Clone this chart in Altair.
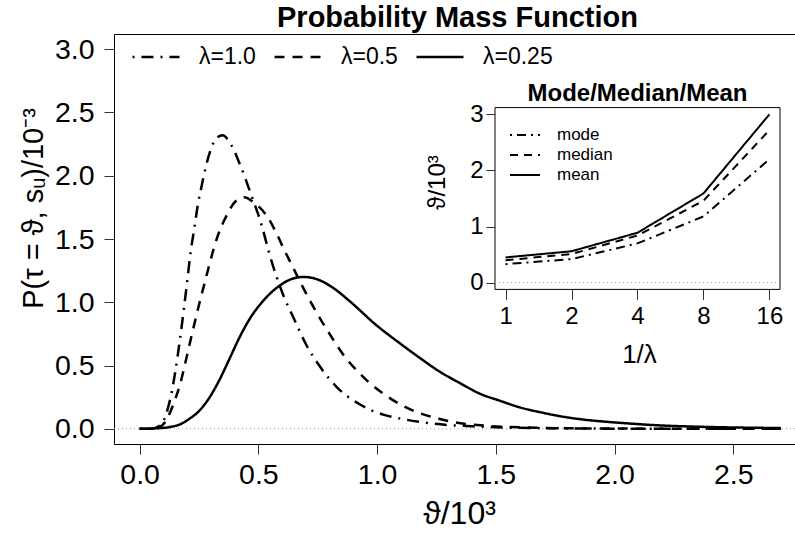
import altair as alt
import pandas as pd

# ---------------- data ----------------
series_labels = ["λ=1.0", "λ=0.5", "λ=0.25"]

theta_l100 = [0.00, 0.05, 0.08, 0.10, 0.12, 0.135, 0.15, 0.17, 0.20, 0.215, 0.23, 0.245,
              0.26, 0.28, 0.30, 0.325, 0.35, 0.37, 0.40, 0.42, 0.445, 0.46, 0.485, 0.50,
              0.515, 0.55, 0.60, 0.65, 0.70, 0.76, 0.83, 0.93, 1.03, 1.10, 1.20, 1.30,
              1.40, 1.50, 1.60, 1.80, 2.00, 2.30, 2.70]
pmf_l100 = [0.00, 0.00, 0.02, 0.06, 0.17, 0.29, 0.45, 0.71, 1.16, 1.40, 1.58, 1.77,
            1.91, 2.08, 2.21, 2.30, 2.32, 2.29, 2.19, 2.10, 1.98, 1.90, 1.77, 1.69,
            1.60, 1.36, 1.08, 0.87, 0.67, 0.49, 0.33, 0.19, 0.11, 0.08, 0.05, 0.03,
            0.02, 0.012, 0.008, 0.003, 0.001, 0.0, 0.0]

theta_l050 = [0.00, 0.06, 0.09, 0.11, 0.126, 0.147, 0.17, 0.186, 0.208, 0.232, 0.25, 0.265,
              0.283, 0.307, 0.33, 0.362, 0.405, 0.44, 0.48, 0.54, 0.58, 0.61, 0.65, 0.69,
              0.73, 0.77, 0.81, 0.86, 0.91, 0.97, 1.04, 1.11, 1.17, 1.26, 1.33, 1.42,
              1.55, 1.70, 1.90, 2.20, 2.70]
pmf_l050 = [0.00, 0.00, 0.02, 0.06, 0.12, 0.22, 0.35, 0.47, 0.65, 0.84, 0.98, 1.09,
            1.22, 1.39, 1.53, 1.67, 1.80, 1.83, 1.79, 1.67, 1.53, 1.41, 1.26, 1.11,
            0.97, 0.84, 0.72, 0.58, 0.47, 0.36, 0.26, 0.18, 0.13, 0.08, 0.05, 0.03,
            0.015, 0.007, 0.003, 0.001, 0.0]

theta_l025 = [0.00, 0.08, 0.13, 0.17, 0.21, 0.25, 0.295, 0.337, 0.38, 0.42, 0.464, 0.515,
              0.55, 0.60, 0.65, 0.69, 0.75, 0.81, 0.89, 0.99, 1.10, 1.18, 1.265, 1.35, 1.43,
              1.52, 1.60, 1.69, 1.77, 1.86, 1.95, 2.04, 2.18, 2.32, 2.46, 2.60, 2.70]
pmf_l025 = [0.00, 0.005, 0.015, 0.035, 0.08, 0.14, 0.25, 0.39, 0.56, 0.72, 0.87, 1.00,
            1.07, 1.145, 1.19, 1.20, 1.18, 1.12, 1.00, 0.83, 0.67, 0.56, 0.45, 0.36, 0.28,
            0.22, 0.17, 0.13, 0.10, 0.075, 0.058, 0.045, 0.028, 0.018, 0.012, 0.008, 0.006]

stat_labels = ["mode", "median", "mean"]
inv_lambda = [1, 2, 4, 8, 16]
mode_vals = [0.33, 0.42, 0.70, 1.18, 2.20]
median_vals = [0.40, 0.51, 0.84, 1.46, 2.72]
mean_vals = [0.45, 0.56, 0.89, 1.59, 3.00]

x_ticks = [0.0, 0.5, 1.0, 1.5, 2.0, 2.5]
y_ticks = [0.0, 0.5, 1.0, 1.5, 2.0, 2.5, 3.0]
inset_x_ticks = [1, 2, 4, 8, 16]
inset_y_ticks = [0, 1, 2, 3]

main_x_domain = [-0.108, 2.76]
main_y_domain = [-0.12, 3.12]
inset_x_domain = [0.895, 17.88]
inset_y_domain = [-0.12, 3.12]

# ---------------- tables ----------------
rows = []
for lab, xs, ys in zip(series_labels, [theta_l100, theta_l050, theta_l025],
                       [pmf_l100, pmf_l050, pmf_l025]):
    for x, y in zip(xs, ys):
        rows.append({"theta": x, "p": y, "series": lab})
main_df = pd.DataFrame(rows)

irows = []
for lab, vals in zip(stat_labels, [mode_vals, median_vals, mean_vals]):
    for x, y in zip(inv_lambda, vals):
        irows.append({"inv": x, "v": y, "stat": lab})
inset_df = pd.DataFrame(irows)

main_zero_df = pd.DataFrame({"x0": [main_x_domain[0]], "x1": [main_x_domain[1]], "y": [0.0]})
inset_box_df = pd.DataFrame({"x0": [inset_x_domain[0]], "x1": [inset_x_domain[1]],
                             "y0": [inset_y_domain[0]], "y1": [inset_y_domain[1]]})
inset_zero_df = pd.DataFrame({"x0": [inset_x_domain[0]], "x1": [inset_x_domain[1]], "y": [0.0]})

FONT = "Liberation Sans"
W, H = 681, 410

main_x = alt.Scale(domain=main_x_domain, nice=False, zero=False)
main_y = alt.Scale(domain=main_y_domain, nice=False, zero=False)
ins_x = alt.Scale(type="log", base=2, domain=inset_x_domain, range=[381, 666], nice=False)
ins_y = alt.Scale(domain=inset_y_domain, range=[255.4, 73.6], nice=False, zero=False)

main_dash = alt.Scale(domain=series_labels, range=[[2, 7, 12, 7], [10, 8], [1, 0]])
ins_dash = alt.Scale(domain=stat_labels, range=[[2, 5, 9, 5], [8, 6], [1, 0]])

common_axis = dict(labelFont=FONT, titleFont=FONT, labelColor="black", titleColor="black",
                   tickColor="#333333", domainColor="black", grid=False,
                   labelFlush=False, labelOverlap=False, titleFontWeight="normal")

# ---------------- main layers ----------------
main_zero = alt.Chart(main_zero_df).mark_rule(color="#999999", strokeDash=[1, 3], strokeWidth=1).encode(
    x=alt.X("x0:Q", scale=main_x,
            axis=alt.Axis(orient="top", labels=False, ticks=False, title=None, domain=True,
                          domainColor="black", grid=False)),
    x2="x1:Q",
    y=alt.Y("y:Q", scale=main_y, axis=None),
)

main_lines = alt.Chart(main_df).mark_line(color="black", strokeWidth=2.5, interpolate="monotone").encode(
    x=alt.X("theta:Q", scale=main_x,
            axis=alt.Axis(orient="bottom", values=x_ticks, format=".1f", labelFontSize=28.5,
                          tickSize=10, labelPadding=6, title="ϑ/10³", titleFontSize=32,
                          titleX=345, titleY=79, titleBaseline="alphabetic", titleAlign="center",
                          **common_axis)),
    y=alt.Y("p:Q", scale=main_y,
            axis=alt.Axis(orient="left", values=y_ticks, format=".1f", labelFontSize=28.5,
                          tickSize=10, labelPadding=10, title="P(τ = ϑ, sᵤ)/10⁻³",
                          titleFontSize=29, titleAngle=270, titleX=-72, titleY=174,
                          titleBaseline="alphabetic", titleAlign="center", **common_axis)),
    strokeDash=alt.StrokeDash("series:N", scale=main_dash, sort=series_labels,
                              legend=alt.Legend(title=None, orient="none", legendX=17, legendY=11,
                                                direction="horizontal", symbolType="stroke",
                                                symbolSize=2209, symbolStrokeWidth=2.5,
                                                symbolStrokeColor="black", labelFont=FONT,
                                                labelFontSize=23, labelColor="black",
                                                labelOffset=18, columnPadding=17, clipHeight=24,
                                                padding=0)),
    detail="series:N",
)

# ---------------- inset layers ----------------
inset_box = alt.Chart(inset_box_df).mark_rect(fill="white", stroke="black", strokeWidth=1).encode(
    x=alt.X("x0:Q", scale=ins_x,
            axis=alt.Axis(orient="top", offset=-73.6, labels=False, ticks=False, domain=False,
                          grid=False, title="Mode/Median/Mean", titleFont=FONT, titleFontSize=24,
                          titleFontWeight="bold", titleColor="black", titleX=523, titleY=-7,
                          titleBaseline="alphabetic", titleAlign="center")),
    x2="x1:Q",
    y=alt.Y("y0:Q", scale=ins_y, axis=None),
    y2="y1:Q",
)

inset_zero = alt.Chart(inset_zero_df).mark_rule(color="#999999", strokeDash=[1, 3], strokeWidth=1).encode(
    x=alt.X("x0:Q", scale=ins_x, axis=None),
    x2="x1:Q",
    y=alt.Y("y:Q", scale=ins_y, axis=None),
)

inset_lines = alt.Chart(inset_df).mark_line(color="black", strokeWidth=2).encode(
    x=alt.X("inv:Q", scale=ins_x,
            axis=alt.Axis(orient="bottom", offset=-154.6, values=inset_x_ticks, format="d",
                          labelFontSize=24, tickSize=10, labelPadding=5, domain=False,
                          title="1/λ", titleFontSize=26, titleX=525, titleY=73,
                          titleBaseline="alphabetic", titleAlign="center", **common_axis)),
    y=alt.Y("v:Q", scale=ins_y,
            axis=alt.Axis(orient="left", offset=-381, values=inset_y_ticks, format="d",
                          labelFontSize=24, tickSize=9, labelPadding=3, domain=False,
                          title="ϑ/10³", titleFontSize=24, titleAngle=270, titleX=-51,
                          titleY=148, titleBaseline="alphabetic", titleAlign="center",
                          **common_axis)),
    strokeDash=alt.StrokeDash("stat:N", scale=ins_dash, sort=stat_labels,
                              legend=alt.Legend(title=None, orient="none", legendX=395, legendY=92,
                                                direction="vertical", symbolType="stroke",
                                                symbolSize=900, symbolStrokeWidth=2,
                                                symbolStrokeColor="black", labelFont=FONT,
                                                labelFontSize=17, labelColor="black",
                                                labelOffset=16, rowPadding=2, clipHeight=18,
                                                padding=0)),
    detail="stat:N",
)

chart = alt.layer(main_zero, main_lines, inset_box, inset_zero, inset_lines).resolve_scale(
    x="independent", y="independent", strokeDash="independent"
).resolve_legend(strokeDash="independent").properties(
    width=W, height=H,
    title=alt.TitleParams("Probability Mass Function", font=FONT, fontSize=29, fontWeight="bold",
                          color="black", anchor="middle", frame="group", offset=5,
                          baseline="alphabetic", dx=3, dy=27),
    padding={"left": 114, "top": 34, "right": 0, "bottom": 90},
    autosize=alt.AutoSizeParams(type="none"),
).configure_view(stroke=None).configure(font=FONT, background="white")

chart.save("out.html", embed_options={"renderer": "svg", "actions": False})
